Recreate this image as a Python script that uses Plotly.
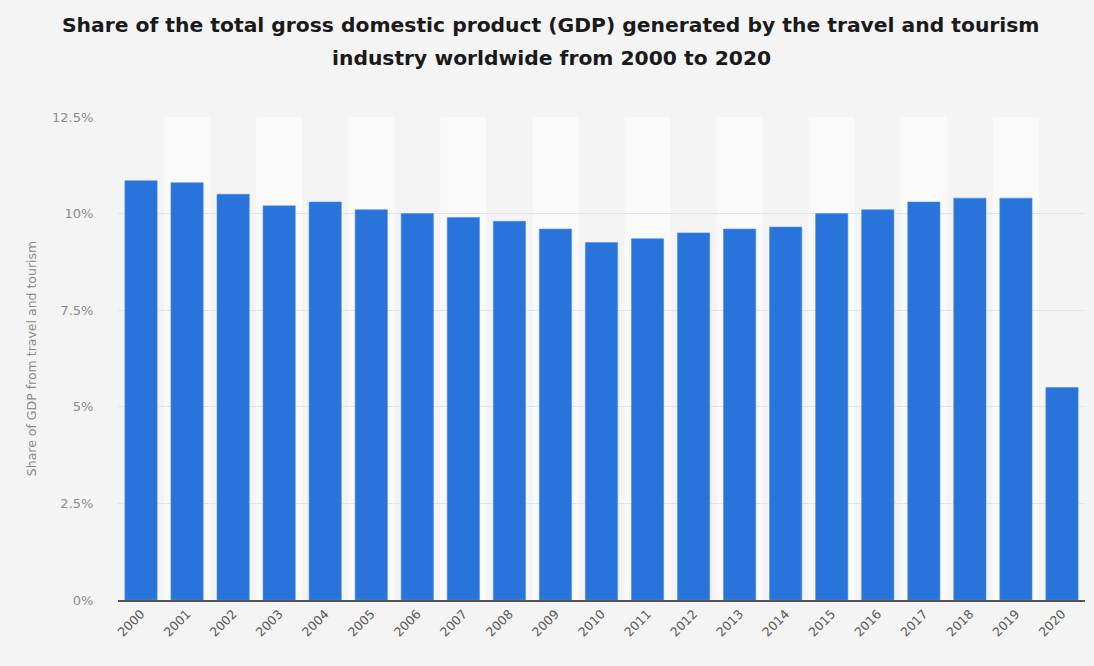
import plotly.graph_objects as go

years = [str(y) for y in range(2000, 2021)]
shares = [10.85, 10.8, 10.5, 10.2, 10.3, 10.1, 10.0, 9.9, 9.8, 9.6, 9.25,
          9.35, 9.5, 9.6, 9.65, 10.0, 10.1, 10.3, 10.4, 10.4, 5.5]
ytick_vals = [0, 2.5, 5, 7.5, 10, 12.5]
ytick_text = ["0%", "2.5%", "5%", "7.5%", "10%", "12.5%"]
title_lines = ["Share of the total gross domestic product (GDP) generated by the travel and tourism",
               "industry worldwide from 2000 to 2020"]
y_title = "Share of GDP from travel and tourism"

W, H = 1094, 666
ml, mr, mt, mb = 118, 9, 117, 66
FONT = "DejaVu Sans, Verdana, sans-serif"

fig = go.Figure()
fig.add_trace(go.Bar(
    x=years, y=shares,
    marker=dict(color="#2874DB", line=dict(color="#4C8FE6", width=0.6)),
    hoverinfo="x+y",
))

shapes = []
for i in range(len(years)):
    if i % 2 == 1:
        shapes.append(dict(type="rect", xref="x", yref="paper",
                           x0=i - 0.5, x1=i + 0.5, y0=0, y1=1,
                           fillcolor="#fafafa", line=dict(width=0), layer="below"))

annotations = []
for k, line in enumerate(title_lines):
    py = 25 + 33 * k
    annotations.append(dict(text="<b>" + line + "</b>", xref="paper", yref="paper",
                            x=(551 - ml) / (W - ml - mr), y=(H - mb - py) / (H - mt - mb),
                            xanchor="center", yanchor="middle", showarrow=False,
                            font=dict(family=FONT, size=20.3, color="#1a1a1a")))

fig.update_layout(
    width=W, height=H,
    margin=dict(l=ml, r=mr, t=mt, b=mb),
    paper_bgcolor="#f4f4f4", plot_bgcolor="#f4f4f4",
    bargap=0.3,
    showlegend=False,
    shapes=shapes,
    annotations=annotations,
    font=dict(family=FONT, color="#666666"),
)
fig.update_xaxes(type="category", tickangle=-45, showgrid=False,
                 tickfont=dict(size=12.5, color="#5a5a5a"),
                 showline=True, linecolor="#555555", linewidth=1.5,
                 ticks="", ticklen=0)
fig.update_yaxes(range=[0, 12.5], tickvals=ytick_vals, ticktext=ytick_text,
                 showgrid=True, gridcolor="#e4e4e4", gridwidth=1,
                 zeroline=False, tickfont=dict(size=13, color="#8c8c8c"),
                 ticks="outside", ticklen=21, tickcolor="rgba(0,0,0,0)",
                 title=dict(text=y_title, font=dict(size=12.5, color="#8a8a8a"), standoff=12))

fig.write_html("out.html")
